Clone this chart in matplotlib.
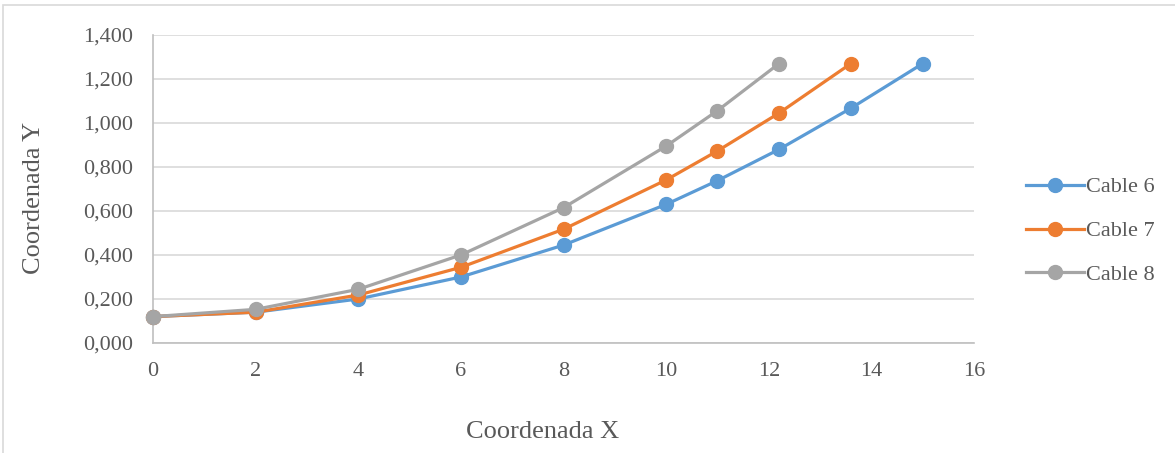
import matplotlib
matplotlib.use("Agg")
import matplotlib.pyplot as plt
from matplotlib.patches import Rectangle
from matplotlib.ticker import FuncFormatter

# datos
x_cable6 = [0, 2, 4, 6, 8, 10, 11, 12.2, 13.6, 15.0]
y_cable6 = [0.12, 0.14, 0.20, 0.30, 0.445, 0.630, 0.738, 0.880, 1.067, 1.270]

x_cable7 = [0, 2, 4, 6, 8, 10, 11, 12.2, 13.6]
y_cable7 = [0.12, 0.14, 0.218, 0.344, 0.517, 0.741, 0.873, 1.045, 1.270]

x_cable8 = [0, 2, 4, 6, 8, 10, 11, 12.2]
y_cable8 = [0.12, 0.153, 0.244, 0.400, 0.615, 0.895, 1.056, 1.270]

series = [
    ("Cable 6", x_cable6, y_cable6, "#5B9BD5"),
    ("Cable 7", x_cable7, y_cable7, "#ED7D31"),
    ("Cable 8", x_cable8, y_cable8, "#A5A5A5"),
]

plt.rcParams["font.family"] = ["Liberation Serif", "DejaVu Serif"]
text_color = "#595959"

fig = plt.figure(figsize=(11.75, 4.53), dpi=100)
ax = fig.add_axes([153 / 1175, 1 - 343 / 453, (974 - 153) / 1175, (343 - 35) / 453])

# marco exterior del grafico
fig.patches.append(Rectangle((3 / 1175, -0.05), 1.2, 1 - 5 / 453 + 0.05,
                             transform=fig.transFigure, fill=False,
                             edgecolor="#d9d9d9", linewidth=1.2))

for name, xs, ys, col in series:
    ax.plot(xs, ys, color=col, linewidth=2.3, marker="o", markersize=10,
            label=name, clip_on=False, zorder=3)

ax.set_xlim(0, 16)
ax.set_ylim(0, 1.4)
ax.set_xticks(range(0, 17, 2))
ax.set_yticks([i * 0.2 for i in range(8)])
ax.yaxis.set_major_formatter(FuncFormatter(lambda v, p: f"{v:.3f}".replace(".", ",")))
ax.grid(axis="y", color="#d9d9d9", linewidth=1.2)
ax.set_axisbelow(True)

for s in ["top", "right"]:
    ax.spines[s].set_visible(False)
for s in ["left", "bottom"]:
    ax.spines[s].set_color("#bfbfbf")
    ax.spines[s].set_linewidth(1.2)

ax.tick_params(length=0, labelsize=16, labelcolor=text_color)
ax.tick_params(axis="x", pad=14)
ax.tick_params(axis="y", pad=14)

ax.set_xlabel("Coordenada X", fontsize=19, color=text_color)
ax.set_ylabel("Coordenada Y", fontsize=19, color=text_color)
ax.xaxis.set_label_coords((543 - 153) / 821, (343 - 421) / 308)
ax.yaxis.set_label_coords((45 - 153) / 821, (343 - 198) / 308)

leg = ax.legend(loc="center left", bbox_to_anchor=(1006 / 1175, 1 - 231 / 453),
                bbox_transform=fig.transFigure, frameon=False, fontsize=16,
                handlelength=2.6, handletextpad=0.1, labelspacing=1.05)
for t in leg.get_texts():
    t.set_color(text_color)

fig.savefig("out.png", dpi=100)
